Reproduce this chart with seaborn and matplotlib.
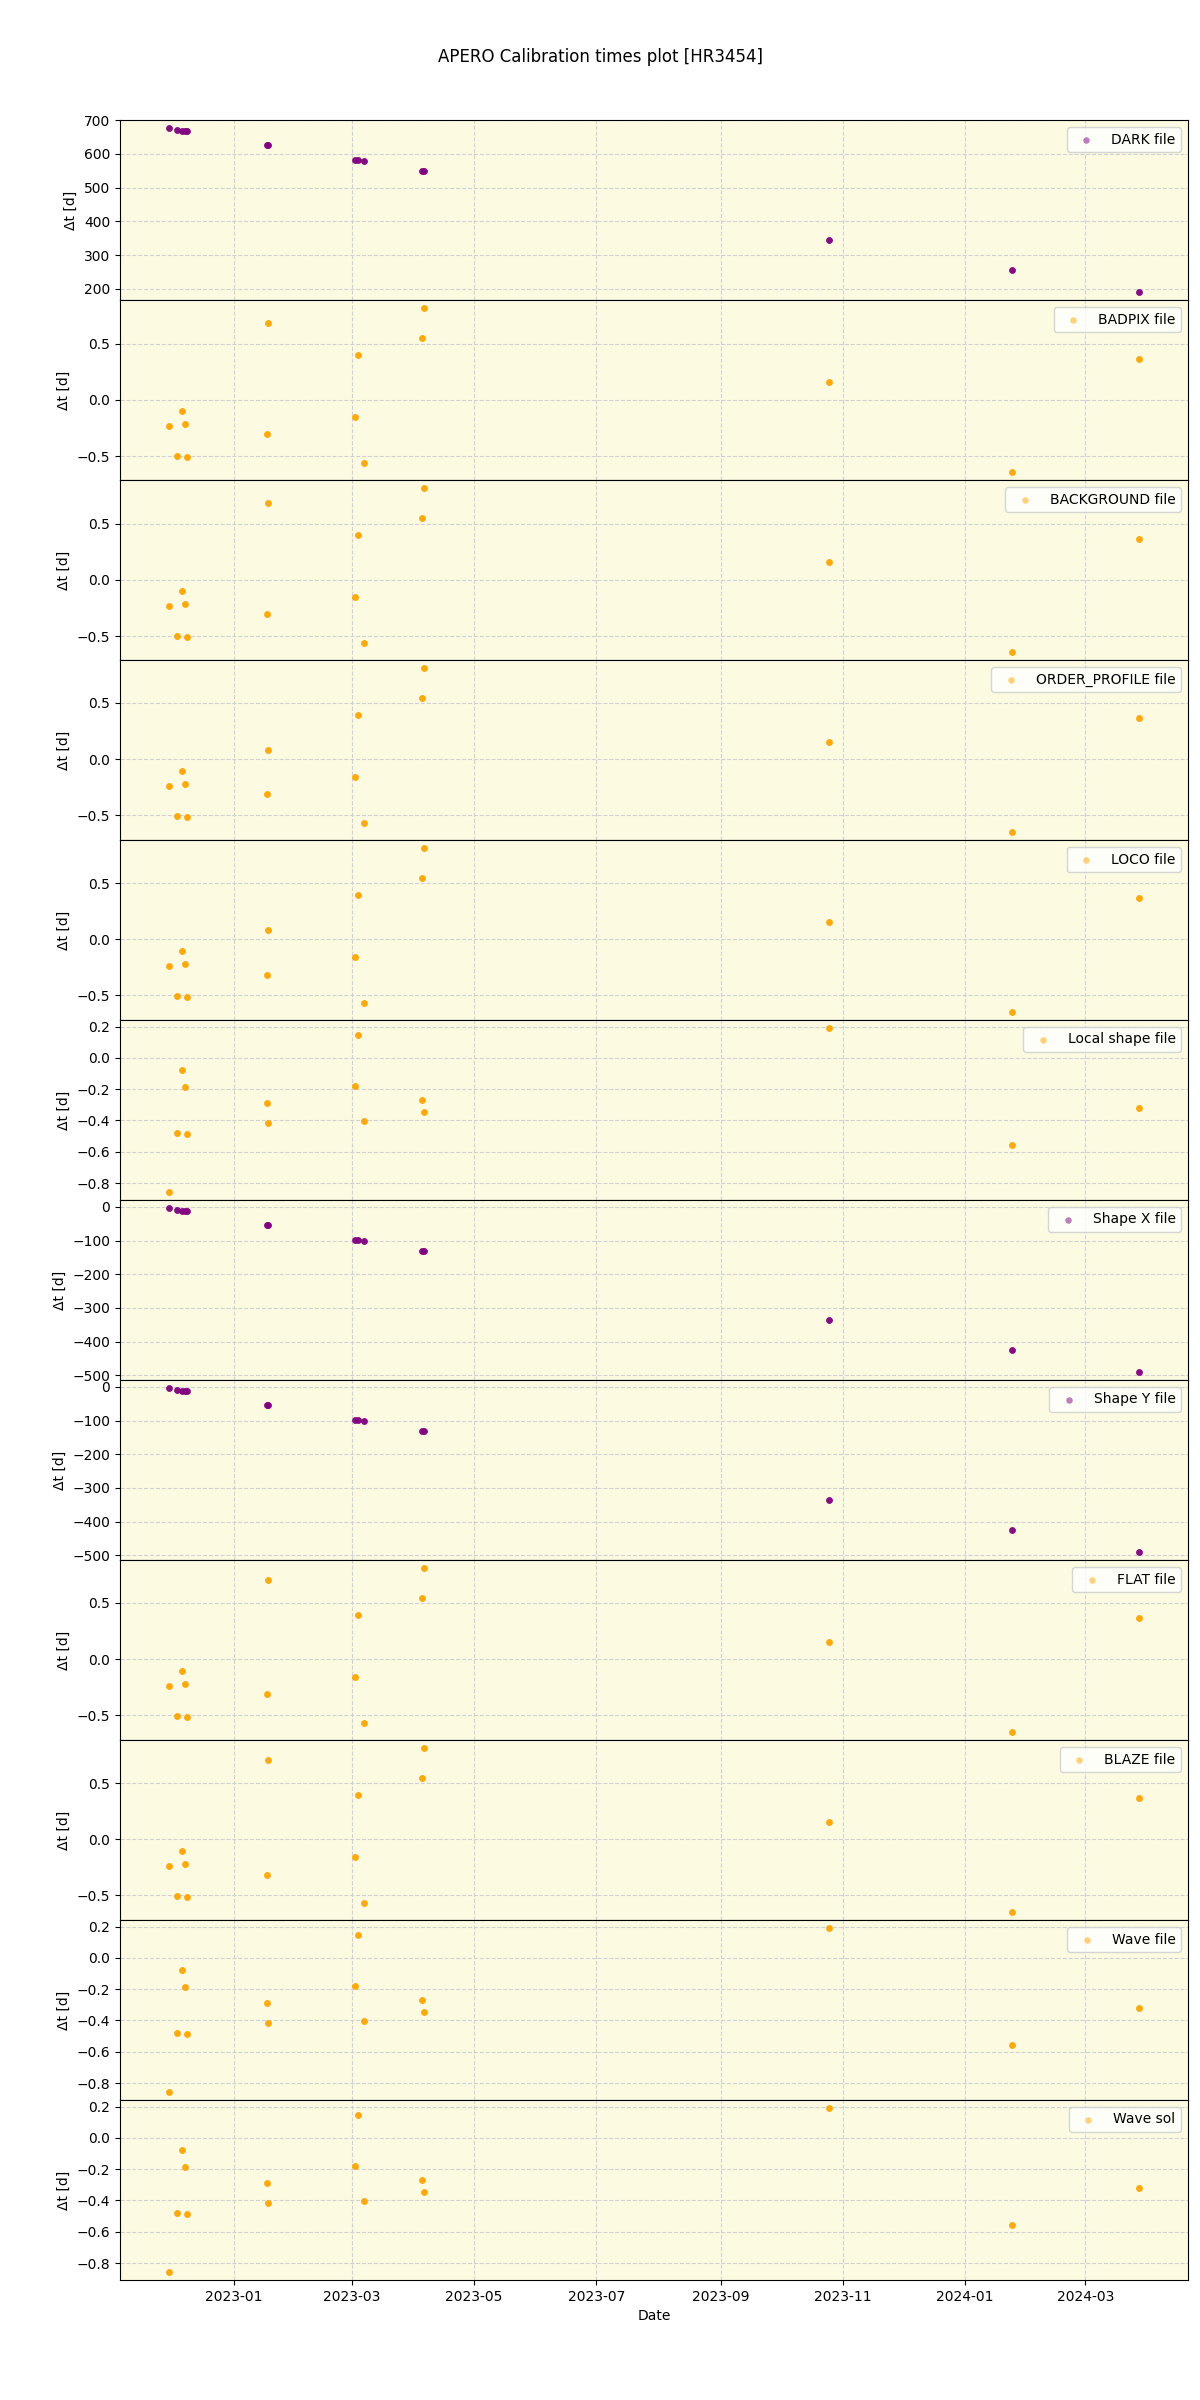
import matplotlib.pyplot as plt
import matplotlib.dates as mdates
import numpy as np
import pandas as pd
import seaborn as sns

# 1. Données (15 visites de HR3454)
obs_dates = pd.to_datetime([
    "2022-11-29 12:00", "2022-12-03 17:00", "2022-12-06 00:00", "2022-12-07 12:00",
    "2022-12-08 17:00", "2023-01-17 10:00", "2023-01-18 05:00", "2023-03-02 10:00",
    "2023-03-03 22:00", "2023-03-07 00:00", "2023-04-05 00:00", "2023-04-05 19:00",
    "2023-10-25 07:00", "2024-01-24 17:00", "2024-03-28 02:00",
])
# nombre de poses par visite (points superposés)
n_exp = [4] * 15

dark_dt = [676.4, 670.4, 668.5, 667.5, 667.5, 626.0, 626.0, 581.8, 581.8, 578.8,
           549.3, 549.3, 345.3, 256.6, 191.6]
badpix_dt = [-0.232, -0.500, -0.098, -0.211, -0.506, -0.307, 0.690, -0.152, 0.402, -0.563,
             0.554, 0.818, 0.161, -0.640, 0.369]
background_dt = [-0.232, -0.500, -0.098, -0.211, -0.506, -0.307, 0.690, -0.152, 0.402, -0.563,
                 0.554, 0.818, 0.161, -0.640, 0.369]
order_profile_dt = [-0.241, -0.509, -0.107, -0.220, -0.515, -0.315, 0.080, -0.161, 0.393, -0.571,
                    0.545, 0.810, 0.152, -0.649, 0.363]
loco_dt = [-0.241, -0.509, -0.107, -0.220, -0.515, -0.315, 0.080, -0.161, 0.393, -0.571,
           0.545, 0.810, 0.152, -0.646, 0.363]
local_shape_dt = [-0.856, -0.479, -0.075, -0.188, -0.486, -0.287, -0.415, -0.180, 0.148, -0.402,
                  -0.270, -0.343, 0.190, -0.559, -0.323]
shape_x_dt = [-4, -10, -13, -13, -13, -54, -54, -99, -99, -102, -131, -131, -336, -424, -490]
shape_y_dt = [-4, -10, -13, -13, -13, -54, -54, -99, -99, -102, -131, -131, -336, -424, -490]
flat_dt = [-0.241, -0.509, -0.107, -0.220, -0.515, -0.315, 0.702, -0.161, 0.393, -0.571,
           0.545, 0.810, 0.152, -0.649, 0.363]
blaze_dt = [-0.241, -0.509, -0.107, -0.220, -0.515, -0.315, 0.702, -0.161, 0.393, -0.571,
            0.545, 0.810, 0.152, -0.646, 0.363]
wave_file_dt = [-0.856, -0.479, -0.075, -0.188, -0.486, -0.287, -0.415, -0.180, 0.148, -0.402,
                -0.270, -0.343, 0.190, -0.559, -0.323]
wave_sol_dt = [-0.856, -0.479, -0.075, -0.188, -0.486, -0.287, -0.415, -0.180, 0.148, -0.402,
               -0.270, -0.343, 0.190, -0.559, -0.323]

panel_labels = ["DARK file", "BADPIX file", "BACKGROUND file", "ORDER_PROFILE file",
                "LOCO file", "Local shape file", "Shape X file", "Shape Y file",
                "FLAT file", "BLAZE file", "Wave file", "Wave sol"]
panel_values = [dark_dt, badpix_dt, background_dt, order_profile_dt, loco_dt,
                local_shape_dt, shape_x_dt, shape_y_dt, flat_dt, blaze_dt,
                wave_file_dt, wave_sol_dt]
panel_colors = ["purple", "orange", "orange", "orange", "orange", "orange",
                "purple", "purple", "orange", "orange", "orange", "orange"]

# 2. Figure
fig, axes = plt.subplots(12, 1, figsize=(12, 24), dpi=100, sharex=True)
fig.subplots_adjust(left=0.1, right=0.99, top=0.95, bottom=0.05, hspace=0)
fig.suptitle("APERO Calibration times plot [HR3454]")

for ax, label, values, colour in zip(axes, panel_labels, panel_values, panel_colors):
    df = pd.DataFrame({
        "date": np.repeat(obs_dates, n_exp),
        "dt": np.repeat(values, n_exp),
    })
    sns.scatterplot(data=df, x="date", y="dt", ax=ax, color=colour, alpha=0.5,
                    s=22, linewidth=0, label=label, zorder=3)
    ax.set_facecolor("#fcfbe2")
    ax.grid(True, linestyle="--", color="0.82", linewidth=0.8)
    ax.set_axisbelow(True)
    ax.set_ylabel("Δt [d]")
    ax.set_xlabel("")
    ax.legend(loc="upper right")

axes[-1].set_xlabel("Date")
axes[-1].xaxis.set_major_locator(mdates.MonthLocator(bymonth=[1, 3, 5, 7, 9, 11]))
axes[-1].xaxis.set_major_formatter(mdates.DateFormatter("%Y-%m"))

# 3. Sauvegarde
plt.savefig("out.png", dpi=100)
plt.close()
